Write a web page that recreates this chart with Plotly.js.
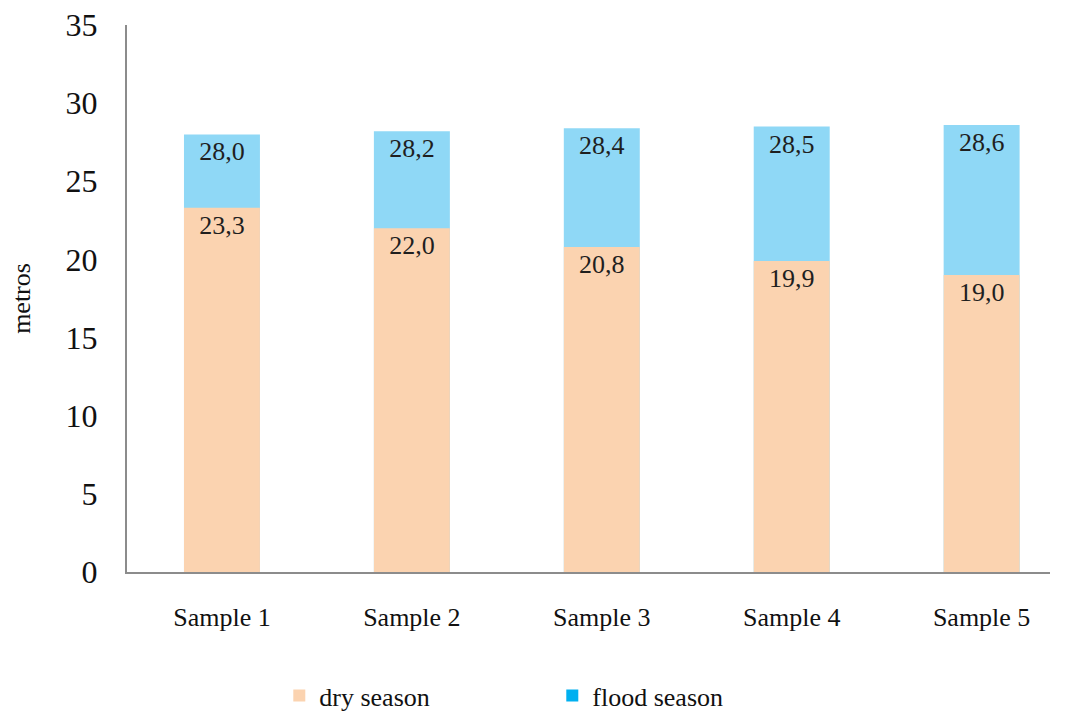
<!DOCTYPE html>
<html>
<head>
<meta charset="utf-8">
<script src="https://cdn.plot.ly/plotly-3.0.1.min.js"></script>
<style>
  html, body { margin: 0; padding: 0; background: #ffffff; }
  #chart { width: 1069px; height: 711px; }
</style>
</head>
<body>
<div id="chart"></div>
<script>
// Water depth per sample (metros), dry vs flood season
const samples = ['Sample 1', 'Sample 2', 'Sample 3', 'Sample 4', 'Sample 5'];
const drySeason = [23.3, 22.0, 20.8, 19.9, 19.0];
const floodSeason = [28.0, 28.2, 28.4, 28.5, 28.6];
const seriesNames = ['dry season', 'flood season'];

const fmt = v => v.toFixed(1).replace('.', ',');
const serif = 'Liberation Serif, Times New Roman, serif';

const labelFont = { family: serif, size: 26, color: '#1f1f1f' };

const traces = [
  // flood season drawn first (taller), dry season overlaid in front
  {
    type: 'bar', x: samples, y: floodSeason,
    name: seriesNames[1], showlegend: false,
    marker: { color: '#8fd8f6' },
    width: 0.4,
    text: floodSeason.map(fmt),
    textposition: 'inside', insidetextanchor: 'end',
    textfont: labelFont, constraintext: 'none',
    hoverinfo: 'x+y'
  },
  {
    type: 'bar', x: samples, y: drySeason,
    name: seriesNames[0], showlegend: true, legendrank: 1,
    marker: { color: '#fbd3b0' },
    width: 0.4,
    text: drySeason.map(fmt),
    textposition: 'inside', insidetextanchor: 'end',
    textfont: labelFont, constraintext: 'none',
    hoverinfo: 'x+y'
  },
  // legend swatch for flood season
  {
    type: 'bar', x: [samples[0]], y: [null],
    name: seriesNames[1], showlegend: true, legendrank: 2,
    marker: { color: '#00b0f0' }, hoverinfo: 'skip'
  }
];

const layout = {
  width: 1069, height: 711,
  margin: { l: 127, r: 19, t: 25, b: 139, autoexpand: false },
  paper_bgcolor: '#ffffff', plot_bgcolor: '#ffffff',
  barmode: 'overlay',
  font: { family: serif, color: '#1a1a1a' },
  xaxis: {
    type: 'category',
    range: [-0.5, 4.36],
    showgrid: false, zeroline: false,
    showline: true, linecolor: '#8c8c8c', linewidth: 2,
    ticks: 'outside', ticklen: 21, tickcolor: 'rgba(0,0,0,0)',
    tickfont: { family: serif, size: 26, color: '#111111' },
    automargin: false,
    fixedrange: true
  },
  yaxis: {
    range: [0, 35], dtick: 5,
    showgrid: false, zeroline: false,
    showline: true, linecolor: '#8c8c8c', linewidth: 2,
    ticks: 'outside', ticklen: 21, tickcolor: 'rgba(0,0,0,0)',
    tickfont: { family: serif, size: 32, color: '#111111' },
    title: { text: 'metros', font: { family: serif, size: 26, color: '#111111' }, standoff: 27 },
    automargin: false,
    fixedrange: true
  },
  legend: {
    orientation: 'h',
    x: 0.165, xanchor: 'left',
    y: -0.183, yanchor: 'top',
    font: { family: serif, size: 26, color: '#111111' },
    entrywidth: 228, entrywidthmode: 'pixels',
    itemwidth: 30,
    traceorder: 'normal',
    bgcolor: 'rgba(0,0,0,0)'
  },
  showlegend: true
};

Plotly.newPlot('chart', traces, layout, { displayModeBar: false, staticPlot: true });
</script>
</body>
</html>
